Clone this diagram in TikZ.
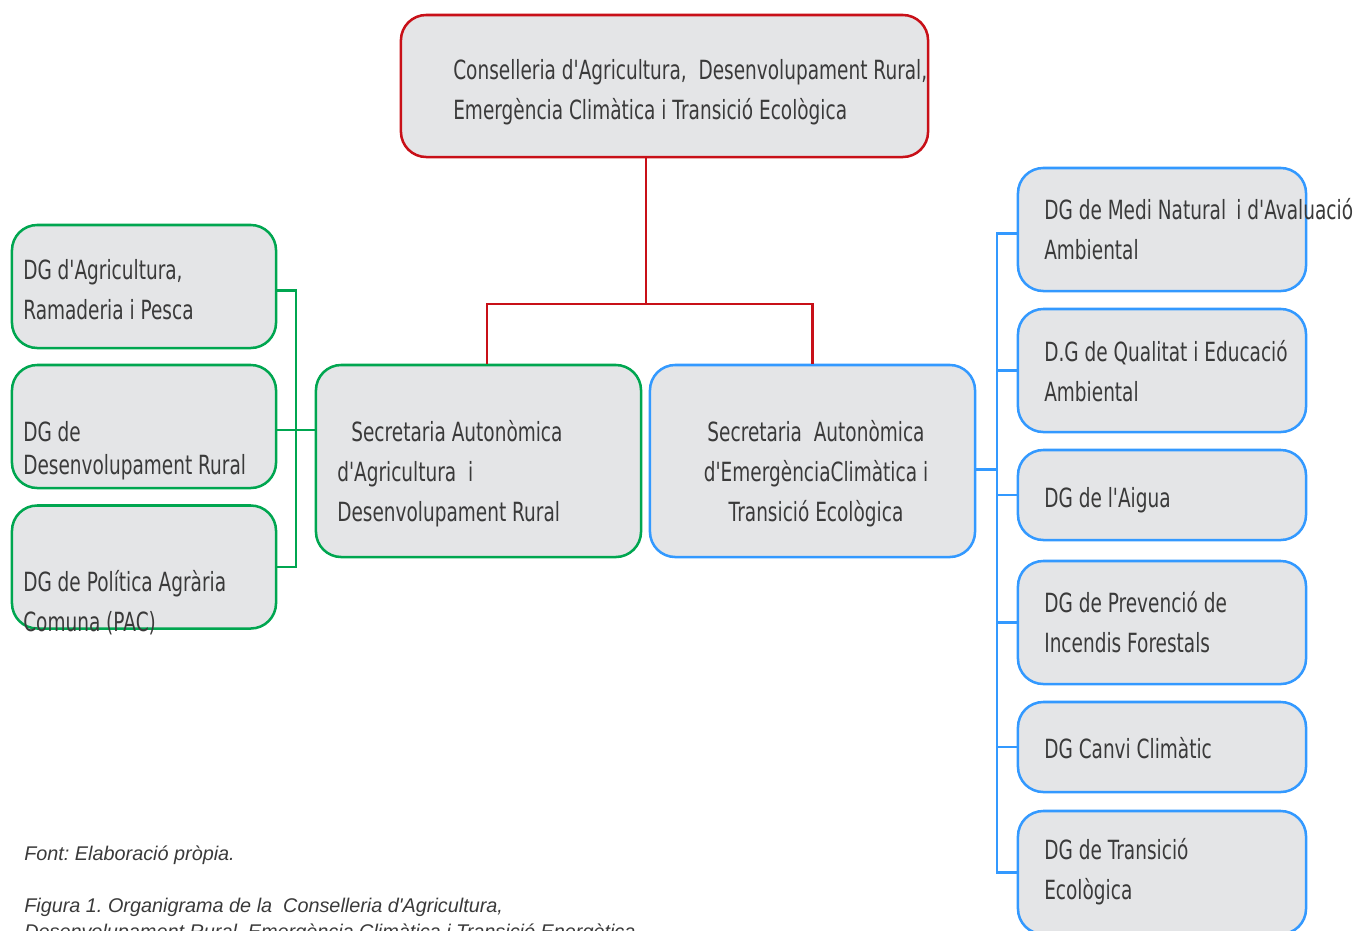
\documentclass[tikz,border=0pt]{standalone}
\usepackage{fontspec}
\definecolor{conselred}{RGB}{200,16,24}
\definecolor{agrigreen}{RGB}{0,166,80}
\definecolor{emergblue}{RGB}{51,153,255}
\definecolor{boxgray}{RGB}{228,229,231}
\definecolor{textgray}{RGB}{58,58,58}
\newfontfamily\boxfont[FakeStretch=0.7,Ligatures=TeXOff]{DejaVu Sans}
\newfontfamily\captionfont[Ligatures=TeXOff]{Liberation Sans}
\frenchspacing
\tikzset{
    % Box styles
    orgbox/.style={
        rectangle, line width=1.8pt, fill=boxgray,
        rounded corners=18pt, inner sep=0pt
    },
    consellbox/.style={
        orgbox, draw=conselred,
        minimum width=13.175cm, minimum height=3.55cm
    },
    secagribox/.style={
        orgbox, draw=agrigreen,
        minimum width=8.125cm, minimum height=4.8cm
    },
    secemergbox/.style={
        orgbox, draw=emergblue,
        minimum width=8.125cm, minimum height=4.8cm
    },
    leftbox/.style={
        orgbox, draw=agrigreen,
        minimum width=6.6cm, minimum height=3.075cm
    },
    rightbox/.style={
        orgbox, draw=emergblue,
        minimum width=7.2cm, minimum height=3.075cm
    },
    shortbox/.style={
        rightbox, minimum height=2.25cm
    },
    % Text styles (anchored at the baseline of the last line)
    boxtext/.style={
        anchor=base west, inner sep=0pt, align=left, text=textgray,
        font=\boxfont\fontsize{18.8}{28.4}\selectfont
    },
    captext/.style={
        anchor=base west, inner sep=0pt, text=textgray,
        font=\captionfont\itshape\fontsize{14.1}{18}\selectfont
    },
    % Connector styles
    redline/.style={draw=conselred, line width=1.8pt},
    greenline/.style={draw=agrigreen, line width=1.8pt},
    blueline/.style={draw=emergblue, line width=1.8pt}
}
\begin{document}
\begin{tikzpicture}[x=0.025cm, y=-0.025cm]
\useasboundingbox (0,0) rectangle (1354,930);

% Conselleria
\node[consellbox] (consell) at (664.5,86) {};
\node[boxtext] (consellText) at (453,119) {Conselleria d'Agricultura,\ \ Desenvolupament Rural,\\Emergència Climàtica i Transició Ecològica};

% Secretaries
\node[secagribox] (saAgri) at (478.5,461) {};
\node[boxtext] (saAgriText) at (337,521) {\hspace*{10pt}Secretaria Autonòmica\\d'Agricultura\ \ i\\Desenvolupament Rural};
\node[secemergbox] (saEmerg) at (812.5,461) {};
\node[boxtext, anchor=base, align=center] (saEmergText) at (816,521) {Secretaria\ \ Autonòmica\\d'EmergènciaClimàtica i\\Transició Ecològica};

% Left DGs
\node[leftbox] (dgAgri) at (144,286.5) {};
\node[boxtext] (dgAgriText) at (23,319) {DG d'Agricultura,\\Ramaderia i Pesca};
\node[leftbox] (dgDesen) at (144,426.5) {};
\node[boxtext] (dgDesenText) at (23,474) {DG de\\[-5.6pt]Desenvolupament Rural};
\node[leftbox] (dgPac) at (144,567) {};
\node[boxtext] (dgPacText) at (23,631) {DG de Política Agrària\\Comuna (PAC)};

% Right DGs
\node[rightbox] (dgMedi) at (1162,229.5) {};
\node[boxtext] (dgMediText) at (1044,259) {DG de Medi Natural\ \,i d'Avaluació\\Ambiental};
\node[rightbox] (dgQual) at (1162,370.5) {};
\node[boxtext] (dgQualText) at (1044,401) {D.G de Qualitat i Educació\\Ambiental};
\node[shortbox] (dgAigua) at (1162,495) {};
\node[boxtext] (dgAiguaText) at (1044,507) {DG de l'Aigua};
\node[rightbox] (dgIncend) at (1162,622.5) {};
\node[boxtext] (dgIncendText) at (1044,652) {DG de Prevenció de\\Incendis Forestals};
\node[shortbox] (dgCanvi) at (1162,747) {};
\node[boxtext] (dgCanviText) at (1044,758) {DG Canvi Climàtic};
\node[rightbox] (dgTrans) at (1162,872.5) {};
\node[boxtext] (dgTransText) at (1044,899) {DG de Transició\\Ecològica};

% Connectors
\coordinate (redjoin) at (646,304);
\coordinate (greenbus) at (296,0);
\coordinate (bluebus) at (997,0);
\draw[redline] (consell.south -| redjoin) -- (redjoin);
\draw[redline] ([xshift=6pt]saAgri.north) |- (redjoin) -| (saEmerg.north);
\draw[greenline] ([yshift=-3pt]dgAgri.east) -| (greenbus |- dgPac.east) -- (dgPac.east);
\draw[greenline] ([yshift=-2.5pt]dgDesen.east) -- ([yshift=-2.5pt]dgDesen.east -| saAgri.west);
\draw[blueline] ([yshift=-3pt]dgMedi.west) -| (bluebus |- dgTrans.west) -- (dgTrans.west);
\foreach \dg in {dgQual,dgAigua,dgIncend,dgCanvi}
    \draw[blueline] (\dg.west) -- (\dg.west -| bluebus);
\draw[blueline] ([yshift=-6pt]saEmerg.east) -- ([yshift=-6pt]saEmerg.east -| bluebus);

% Caption
\node[captext] (font) at (24,860) {Font: Elaboració pròpia.};
\node[captext] (figura) at (24,912) {Figura 1. Organigrama de la\ \ Conselleria d'Agricultura,};
\node[captext] (figuraCont) at (24,938) {Desenvolupament Rural, Emergència Climàtica i Transició Energètica};

\end{tikzpicture}
\end{document}
